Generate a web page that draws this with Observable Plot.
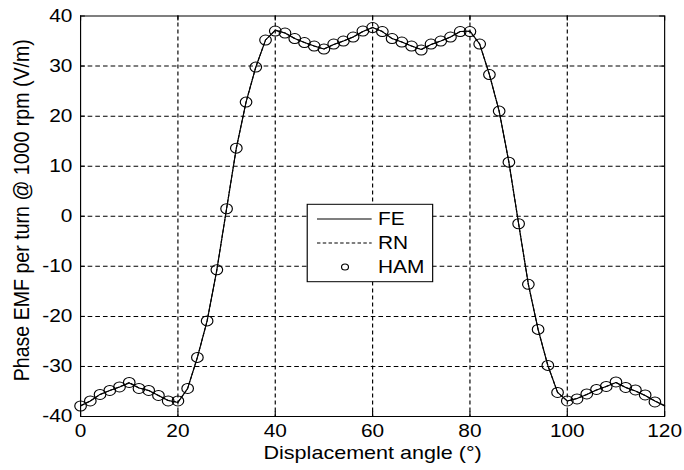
<!DOCTYPE html>
<html>
<head>
<meta charset="utf-8">
<script src="https://cdn.jsdelivr.net/npm/d3@7"></script>
<script src="https://cdn.jsdelivr.net/npm/@observablehq/plot@0.6"></script>
<style>
  html, body { margin: 0; padding: 0; background: #fff; }
  #chart { width: 684px; height: 470px; overflow: hidden; }
</style>
</head>
<body>
<div id="chart"></div>
<script>
// ---- data ----
const angles = [0,2,4,6,8,10,12,14,16,18,20,22,24,26,28,30,32,34,36,38,40,42,44,46,48,50,52,54,56,58,60,62,64,66,68,70,72,74,76,78,80,82,84,86,88,90,92,94,96,98,100,102,104,106,108,110,112,114,116,118,120];
const feValues = [-37.9,-36.9,-35.6,-34.8,-34.1,-33.3,-34.3,-34.8,-35.8,-36.8,-37.2,-34.4,-28.2,-20.9,-10.7,1.5,13.6,22.8,29.8,35.2,37.2,36.6,35.5,34.7,34.0,33.4,34.3,35.0,35.8,36.9,37.7,36.9,35.5,34.8,34.0,33.3,34.3,35.0,35.8,36.9,37.0,34.4,28.3,21.0,10.8,-1.5,-13.6,-22.6,-29.8,-35.2,-36.9,-36.4,-35.6,-34.7,-34.0,-33.2,-34.2,-34.9,-35.8,-36.9,-37.9];
const rnValues = [-37.8,-36.9,-35.6,-34.8,-34.1,-33.2,-34.3,-34.8,-35.8,-36.8,-37.1,-34.4,-28.2,-20.9,-10.7,1.5,13.6,22.8,29.8,35.2,37.1,36.6,35.5,34.7,34.0,33.4,34.3,35.0,35.8,36.9,37.7,36.9,35.5,34.8,34.0,33.3,34.3,35.0,35.8,36.9,36.9,34.4,28.3,21.0,10.8,-1.5,-13.6,-22.6,-29.8,-35.2,-36.9,-36.4,-35.6,-34.7,-34.0,-33.2,-34.2,-34.9,-35.8,-36.9,-37.8];
const hamAngles = [0,2,4,6,8,10,12,14,16,18,20,22,24,26,28,30,32,34,36,38,40,42,44,46,48,50,52,54,56,58,60,62,64,66,68,70,72,74,76,78,80,82,84,86,88,90,92,94,96,98,100,102,104,106,108,110,112,114,116,118];
const hamValues = [-37.9,-36.9,-35.6,-34.8,-34.1,-33.2,-34.4,-34.8,-35.8,-36.9,-36.9,-34.4,-28.2,-20.9,-10.7,1.5,13.6,22.8,29.8,35.2,37.0,36.6,35.5,34.7,34.0,33.4,34.4,35.0,35.8,37.0,37.7,36.9,35.5,34.8,34.0,33.2,34.4,35.0,35.8,36.9,36.9,34.4,28.3,21.0,10.8,-1.5,-13.6,-22.6,-29.8,-35.2,-36.9,-36.5,-35.5,-34.6,-34.0,-33.1,-34.2,-34.7,-35.7,-37.1];
const xTicks = [0,20,40,60,80,100,120];
const yTicks = [-40,-30,-20,-10,0,10,20,30,40];
const xLabel = "Displacement angle (°)";
const yLabel = "Phase EMF per turn @ 1000 rpm (V/m)";
const legendItems = ["FE","RN","HAM"];

// ---- tables ----
const fe = angles.map((a, i) => ({x: a, y: feValues[i]}));
const rn = angles.map((a, i) => ({x: a, y: rnValues[i]}));
const ham = hamAngles.map((a, i) => ({x: a, y: hamValues[i]}));
const innerX = xTicks.filter(d => d > 0 && d < 120);
const innerY = yTicks.filter(d => d > -40 && d < 40);

// the reference is horizontally stretched; draw at a narrower internal width and stretch
const W = 590, H = 470, OUTW = 684;

const svg = Plot.plot({
  width: W,
  height: H,
  marginLeft: 69,
  marginRight: 17.2,
  marginTop: 15.5,
  marginBottom: 54,
  style: {fontFamily: "'Liberation Sans', Arial, sans-serif", fontSize: "18px", color: "#000", background: "#fff", overflow: "visible"},
  x: {domain: [0, 120]},
  y: {domain: [-40, 40]},
  marks: [
    Plot.ruleX(innerX, {stroke: "#000", strokeWidth: 1, strokeDasharray: "4,3"}),
    Plot.ruleY(innerY, {stroke: "#000", strokeWidth: 1, strokeDasharray: "4,2.6"}),
    // inward ticks (MATLAB style) on all sides
    Plot.ruleX(xTicks, {y1: -40, y2: -39, stroke: "#000"}),
    Plot.ruleX(xTicks, {y1: 40, y2: 39, stroke: "#000"}),
    Plot.ruleY(yTicks, {x1: 0, x2: 1, stroke: "#000"}),
    Plot.ruleY(yTicks, {x1: 120, x2: 119, stroke: "#000"}),
    Plot.line(rn, {x: "x", y: "y", stroke: "#000", strokeWidth: 1, strokeDasharray: "3,2"}),
    Plot.line(fe, {x: "x", y: "y", stroke: "#000", strokeWidth: 1}),
    Plot.dot(ham, {x: "x", y: "y", r: 5, stroke: "#000", fill: "none", strokeWidth: 1}),
    Plot.frame({stroke: "#000", strokeWidth: 1}),
    Plot.axisX({ticks: xTicks, tickSize: 0, tickPadding: 8, label: null, tickFormat: d => String(d)}),
    Plot.axisY({ticks: yTicks, tickSize: 0, tickPadding: 7, label: null, tickFormat: d => String(d)}),
    Plot.text([xLabel], {frameAnchor: "bottom", dy: 42, text: d => d, fontSize: 18.6, textAnchor: "middle"}),
    Plot.text([yLabel], {frameAnchor: "left", dx: -51, dy: -6, rotate: -90, text: d => d, fontSize: 19.6, textAnchor: "middle"})
  ]
});

// ---- legend (decoration, drawn in the plot's svg) ----
const g = d3.select(svg).append("g").attr("class", "legend");
const lx0 = 265, lx1 = 373.2, ly0 = 204.3, ly1 = 281.7;
g.append("rect").attr("x", lx0).attr("y", ly0).attr("width", lx1 - lx0).attr("height", ly1 - ly0)
  .attr("fill", "#fff").attr("stroke", "#000").attr("stroke-width", 1);
const rows = [219, 243, 267];
legendItems.forEach((name, i) => {
  const yy = rows[i];
  if (name === "FE") {
    g.append("line").attr("x1", 273.4).attr("x2", 320.6).attr("y1", yy).attr("y2", yy).attr("stroke", "#000");
  } else if (name === "RN") {
    g.append("line").attr("x1", 273.4).attr("x2", 320.6).attr("y1", yy).attr("y2", yy).attr("stroke", "#000").attr("stroke-dasharray", "3,2");
  } else {
    g.append("circle").attr("cx", 297.6).attr("cy", yy).attr("r", 3).attr("fill", "none").attr("stroke", "#000");
  }
  g.append("text").attr("x", 326).attr("y", yy).attr("dy", "0.35em").attr("font-size", 18).attr("fill", "#000").attr("text-anchor", "start").text(name);
});

svg.setAttribute("width", OUTW);
svg.setAttribute("height", H);
svg.setAttribute("viewBox", `0 0 ${W} ${H}`);
svg.setAttribute("preserveAspectRatio", "none");
svg.style.width = OUTW + "px";
svg.style.height = H + "px";
svg.style.maxWidth = "none";
document.getElementById("chart").appendChild(svg);
</script>
</body>
</html>
